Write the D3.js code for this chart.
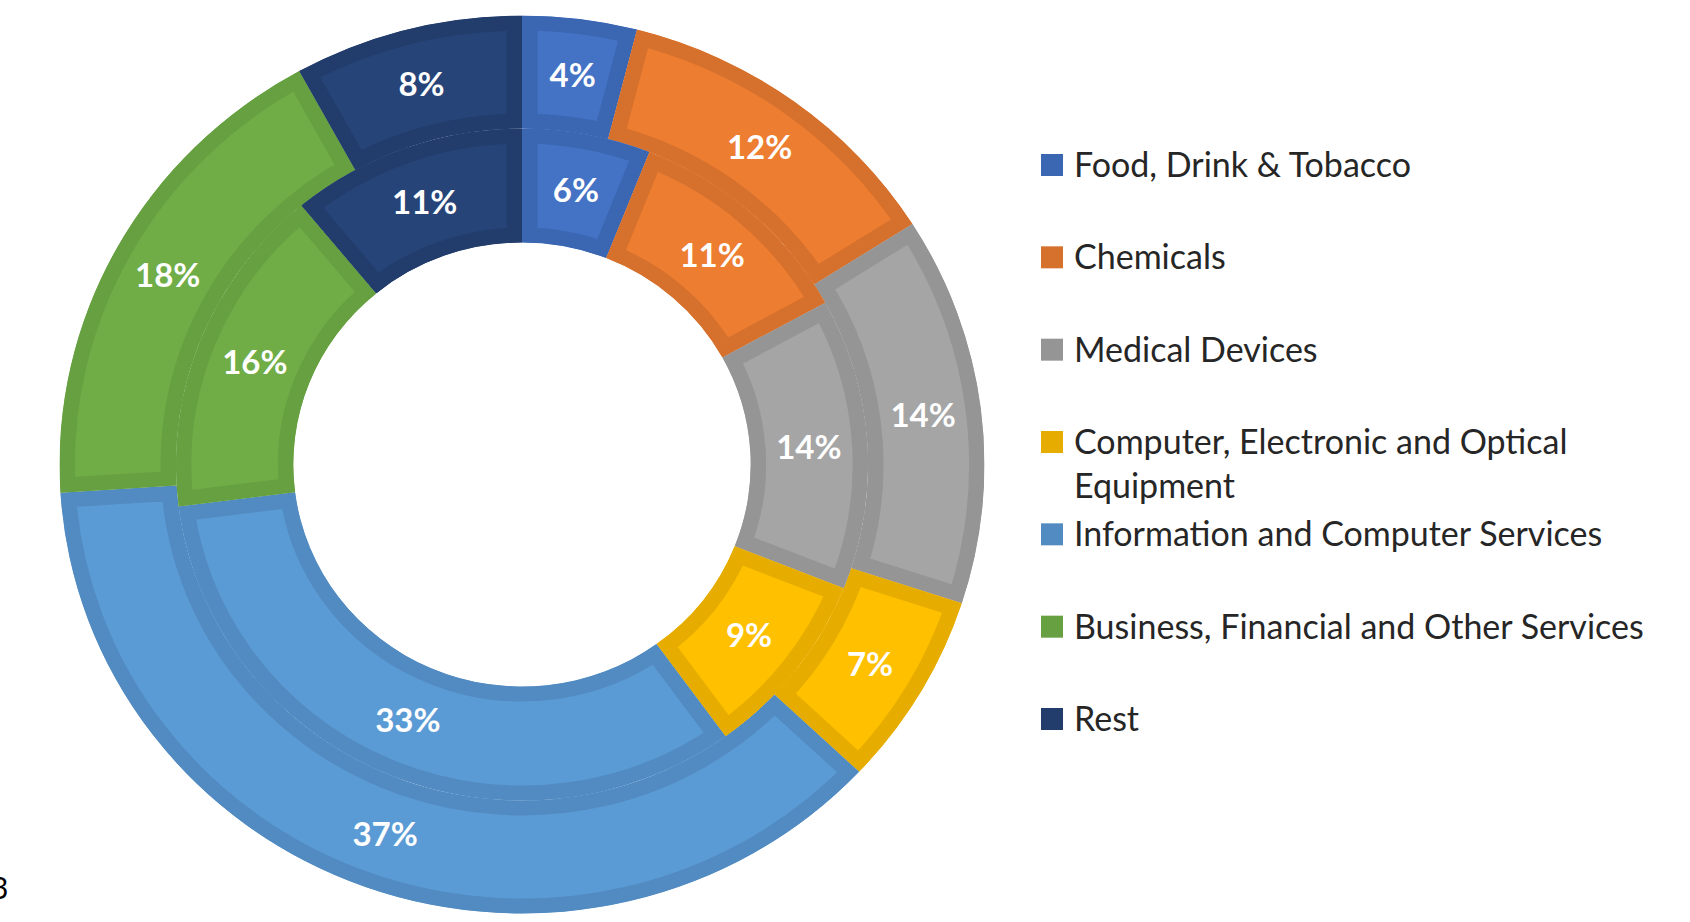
<!DOCTYPE html>
<html>
<head>
<meta charset="utf-8">
<script src="https://cdn.jsdelivr.net/npm/d3@7"></script>
<style>
	body { margin: 0; background: #ffffff; }
	svg { display: block; }
</style>
</head>
<body>
<svg id="svgChart" width="1690" height="922"></svg>
<script>
// Two-ring doughnut: outer and inner ring share of each sector

var categories = ["Food, Drink & Tobacco", "Chemicals", "Medical Devices",
	"Computer, Electronic and Optical Equipment", "Information and Computer Services",
	"Business, Financial and Other Services", "Rest"];
var outerValues = [4, 12, 14, 7, 37, 18, 8];
var innerValues = [6, 11, 14, 9, 33, 16, 11];
var fillColors = ["#4472C4", "#ED7D31", "#A5A5A5", "#FFC000", "#5B9BD5", "#70AD47", "#264478"];
var borderColors = ["#3A66B2", "#D6712D", "#959595", "#E6AD00", "#528BC1", "#66A041", "#223D6C"];

var svg = d3.select('#svgChart');
var centerX = 522;
var centerY = 464.5;
var stretchX = 1.03;
var holeRadius = 222;
var midRadius = 336;
var outerRadius = 449;
var borderWidth = 15;
var labelFont = "Lato, 'Open Sans', sans-serif";

var chartGroup = svg.append("g")
	.attr("transform", "translate(" + centerX + "," + centerY + ")");
var ringGroup = chartGroup.append("g")
	.attr("transform", "scale(" + stretchX + ",1)");
var labelGroup = chartGroup.append("g");
var defs = svg.append("defs");

var pieMaker = d3.pie().sort(null).value(function(d) { return d; });

function drawRing(values, r0, r1, name) {
	let slices = pieMaker(values);
	let arcs = d3.arc()
		.innerRadius(r0)
		.outerRadius(r1);

	// clip each slice to itself so the border sits inside it
	defs.selectAll("clipPath." + name)
		.data(slices)
		.enter()
		.append("clipPath")
		.attr("class", name)
		.attr("id", function(d, i) { return name + i; })
		.append("path")
		.attr("d", arcs);

	ringGroup.selectAll("path." + name)
		.data(slices)
		.enter()
		.append("path")
		.attr("class", name)
		.attr("d", arcs)
		.attr("fill", function(d, i) { return fillColors[i]; })
		.attr("stroke", function(d, i) { return borderColors[i]; })
		.attr("stroke-width", borderWidth * 2)
		.attr("stroke-linejoin", "miter")
		.attr("clip-path", function(d, i) { return "url(#" + name + i + ")"; });

	labelGroup.selectAll("text." + name)
		.data(slices)
		.enter()
		.append("text")
		.attr("class", name)
		.attr("x", function(d) { return arcs.centroid(d)[0] * stretchX; })
		.attr("y", function(d) { return arcs.centroid(d)[1]; })
		.attr("dy", "0.36em")
		.attr("text-anchor", "middle")
		.attr("fill", "#ffffff")
		.style("font-family", labelFont)
		.style("font-weight", "bold")
		.style("font-size", "33px")
		.text(function(d) { return d.data + "%"; });
}

function drawLegend() {
	let legendY = d3.scalePoint()
		.domain(categories)
		.range([165, 719]);
	let legend = svg.append("g")
		.attr("transform", "translate(1041,0)");
	let rows = legend.selectAll("g")
		.data(categories)
		.enter()
		.append("g")
		.attr("transform", function(d) { return "translate(0," + legendY(d) + ")"; });
	rows.append("rect")
		.attr("x", 0)
		.attr("y", -11)
		.attr("width", 22)
		.attr("height", 22)
		.attr("fill", function(d, i) { return borderColors[i]; });
	let labels = rows.append("text")
		.attr("x", 33)
		.attr("y", 12)
		.attr("fill", "#262626")
		.style("font-family", labelFont)
		.style("font-size", "34px");
	// Excel wraps the long computer label onto two lines
	labels.each(function(d) {
		let lines = d.indexOf("Optical") > 0 ? ["Computer, Electronic and Optical", "Equipment"] : [d];
		d3.select(this).selectAll("tspan")
			.data(lines)
			.enter()
			.append("tspan")
			.attr("x", 33)
			.attr("dy", function(l, j) { return j === 0 ? 0 : 44; })
			.text(function(l) { return l; });
	});
}

drawRing(outerValues, midRadius, outerRadius, "outer");
drawRing(innerValues, holeRadius, midRadius, "inner");
drawLegend();

// stray clipped character at the lower left edge of the original image
svg.append("text")
	.attr("x", -9)
	.attr("y", 899)
	.attr("fill", "#000000")
	.style("font-family", labelFont)
	.style("font-size", "30px")
	.text("3");
</script>
</body>
</html>
